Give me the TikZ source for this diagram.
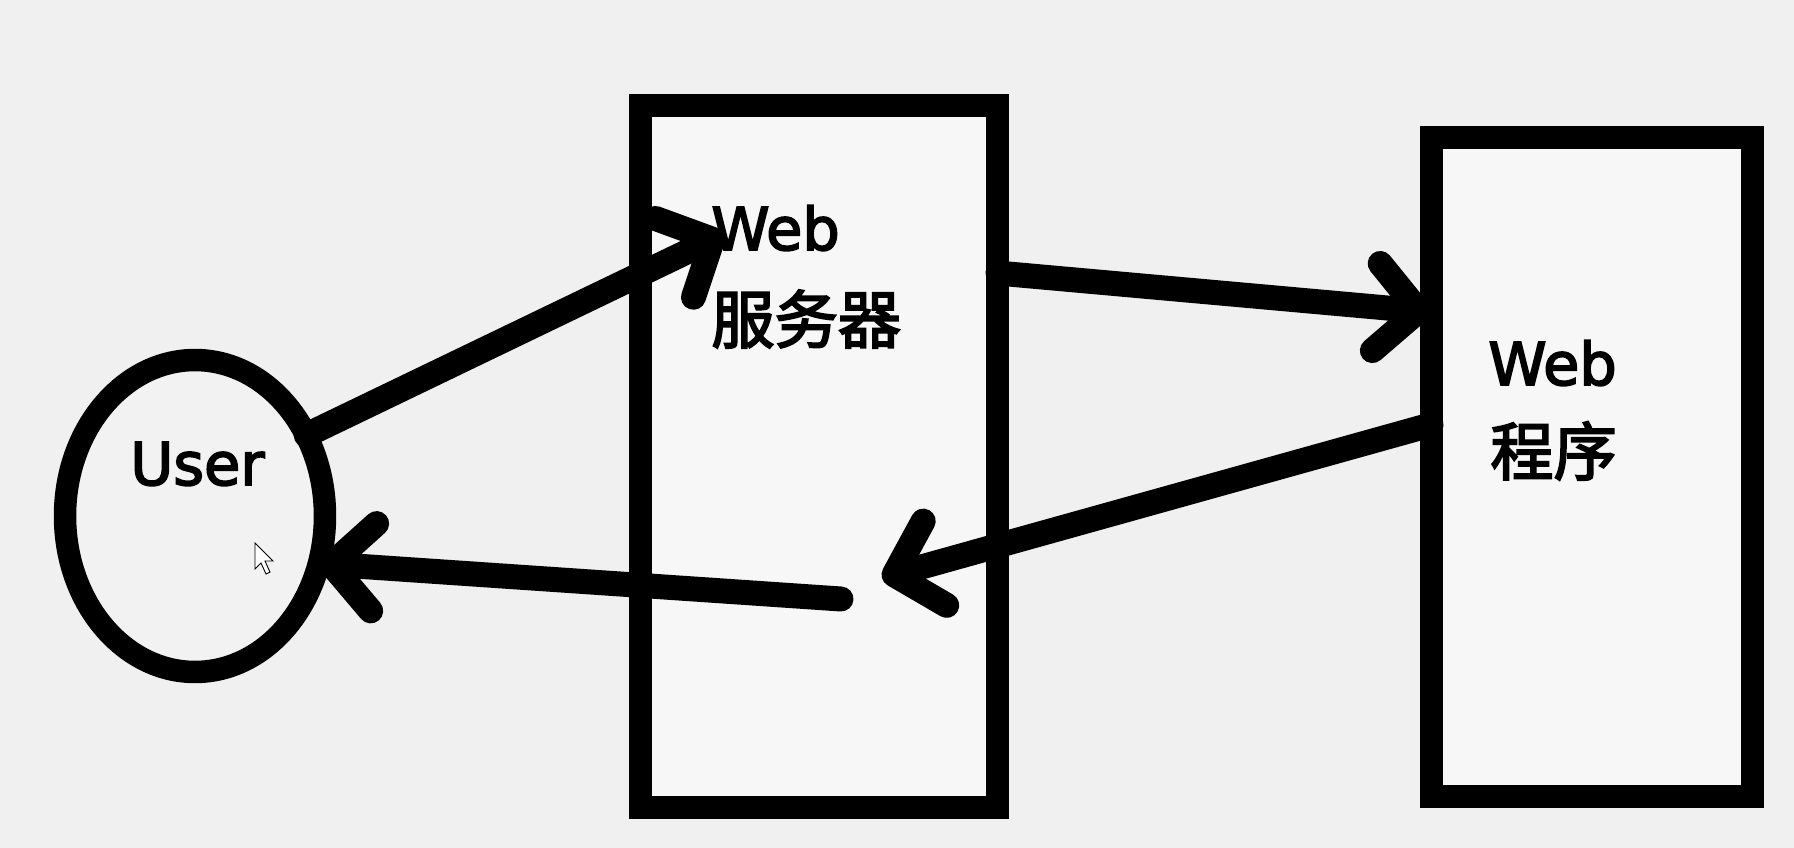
\documentclass[tikz,border=0pt]{standalone}
\usepackage{fontspec}
\setmainfont{DejaVu Sans}
\newfontfamily\latfont{DejaVu Sans}[BoldFont={DejaVu Sans}, BoldFeatures={FakeBold=3}]
\newfontfamily\cjkfont{Noto Sans CJK SC}[BoldFont={Noto Sans CJK SC}, BoldFeatures={FakeBold=3}]
\usetikzlibrary{arrows.meta,shapes.geometric,calc}
\begin{document}
\begin{tikzpicture}[x=0.02cm,y=-0.02cm,
  boxstyle/.style={draw=black, line width=0.46cm, fill=white!97!black, rectangle, inner sep=0, outer sep=0},
  conn/.style={line width=0.5cm, line cap=round, -{Straight Barb[length=0.85cm,width=1.75cm,round]}},
  lat/.style={font=\latfont\bfseries\fontsize{33.5}{40}\selectfont, anchor=base west, inner sep=0},
  cjk/.style={font=\cjkfont\bfseries\fontsize{36}{43}\selectfont, anchor=base west, inner sep=0}]
\fill[white!94!black] (0,0) rectangle (1794,848);
\useasboundingbox (0,0) rectangle (1794,848);
\node[boxstyle, minimum width=7.16cm, minimum height=14.06cm] (box1) at (819,456.5) {};
\node[boxstyle, minimum width=6.44cm, minimum height=13.2cm] (box2) at (1592,467) {};
\node[draw=black, ellipse, line width=0.45cm, minimum width=5.2cm, minimum height=6.24cm, inner sep=0, outer sep=0, fill=white!95!black] (user) at (195,516) {};
\node[lat] (w1) at (711,250) {Web};
\node[cjk] (s1) at (711,343) {服务器};
\node[lat] (w2) at (1488,385) {Web};
\node[cjk] (s2) at (1490,475) {程序};
\node[lat] (ul) at (130,485) {User};
\coordinate (a1tip) at (724,234);
\coordinate (a3tip) at (882,578);
\coordinate (a4tail) at (841,599);
\draw[conn] (user.36) -- (a1tip);
\draw[conn] ($(box1.north east)!0.239!(box1.south east)$) -- ($(box2.north west)!0.265!(box2.south west)$);
\draw[conn] ($(box2.north west)!0.436!(box2.south west)$) -- (a3tip);
\draw[conn] (a4tail) -- (user.-21);
\draw[line width=0.5pt, fill=white, line join=miter] (255,543) -- (255,569) -- (261,563) -- (266,574) -- (270,572) -- (265,561) -- (273,561) -- cycle;
\end{tikzpicture}
\end{document}
